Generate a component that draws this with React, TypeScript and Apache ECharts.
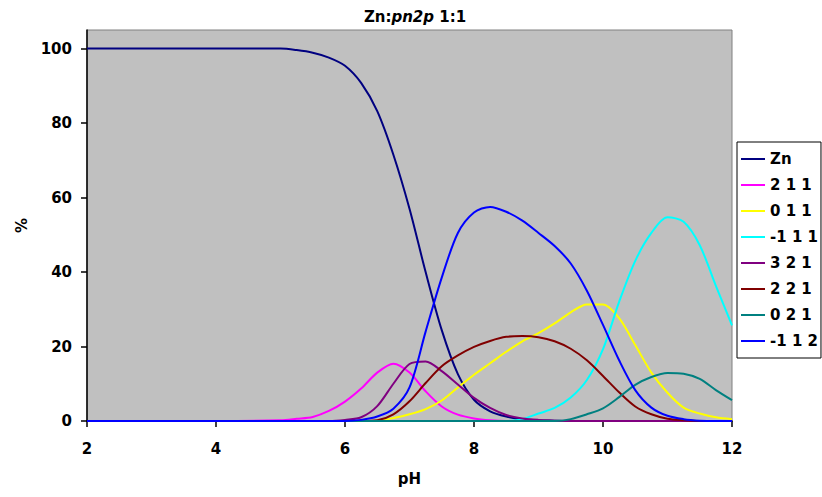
import React, { useEffect, useRef } from "react";
import * as echarts from "echarts";

const pH = [2, 4, 5, 5.25, 5.5, 5.75, 6, 6.25, 6.5, 6.75, 7, 7.25, 7.5, 7.75, 8, 8.25, 8.5, 8.75, 9, 9.25, 9.5, 9.75, 10, 10.25, 10.5, 10.75, 11, 11.25, 11.5, 11.75, 12];

const seriesNames = ["Zn", "2 1 1", "0 1 1", "-1 1 1", "3 2 1", "2 2 1", "0 2 1", "-1 1 2"];
const seriesColors = ["#000080", "#FF00FF", "#FFFF00", "#00FFFF", "#800080", "#800000", "#008080", "#0000FF"];

const zn = [100, 100, 100, 99.6, 98.9, 97.6, 95.4, 90.8, 83.2, 71.5, 57, 40, 24.4, 12.6, 5.7, 2.6, 1.2, 0.5, 0.2, 0.1, 0, 0, 0, 0, 0, 0, 0, 0, 0, 0, 0];
const s211 = [0, 0, 0.2, 0.6, 1.1, 2.7, 5.2, 8.7, 13, 15.4, 13, 8, 3.9, 1.7, 0.7, 0.2, 0, 0, 0, 0, 0, 0, 0, 0, 0, 0, 0, 0, 0, 0, 0];
const s011 = [0, 0, 0, 0, 0, 0, 0, 0, 0.1, 0.8, 1.8, 3.2, 5.5, 9, 12.4, 15.5, 18.6, 21.4, 23.6, 26.2, 29.2, 31.3, 31.3, 27.6, 20.4, 13, 7.6, 3.6, 2, 1, 0.5];
const sm111 = [0, 0, 0, 0, 0, 0, 0, 0, 0, 0, 0, 0, 0, 0, 0, 0, 0, 0.5, 2, 3.5, 6.3, 11, 19.3, 32, 43, 50.5, 54.7, 53.5, 47.2, 36.3, 25.7];
const s321 = [0, 0, 0, 0, 0, 0, 0.3, 1, 4, 10, 15.3, 16, 13.4, 9.8, 6.2, 3.5, 1.6, 0.7, 0.3, 0.1, 0, 0, 0, 0, 0, 0, 0, 0, 0, 0, 0];
const s221 = [0, 0, 0, 0, 0, 0, 0, 0, 0.2, 1.8, 5.3, 10.2, 14.7, 17.6, 19.9, 21.5, 22.6, 22.8, 22.5, 21.4, 19.4, 16.3, 12.1, 7.7, 3.9, 1.8, 0.6, 0.2, 0, 0, 0];
const s021 = [0, 0, 0, 0, 0, 0, 0, 0, 0, 0, 0, 0, 0, 0, 0, 0, 0, 0, 0, 0, 0.5, 1.8, 3.4, 6.4, 9.7, 11.8, 12.9, 12.7, 11.3, 8.3, 5.6];
const sm112 = [0, 0, 0, 0, 0, 0, 0, 0.3, 1.2, 3.3, 9, 24, 38.5, 50.5, 56, 57.5, 56.2, 53.8, 50.5, 47, 42.3, 35, 25.8, 16.3, 8.3, 3.6, 1.4, 0.5, 0.1, 0, 0];

const seriesValues = [zn, s211, s011, sm111, s321, s221, s021, sm112];

const xTicks = [2, 4, 6, 8, 10, 12];
const yTicks = [0, 20, 40, 60, 80, 100];

const FONT = "DejaVu Sans";

export default function App() {
  const ref = useRef<HTMLDivElement>(null);
  useEffect(() => {
    if (!ref.current) return;
    const chart = echarts.init(ref.current, undefined, { renderer: "svg" });
    chart.setOption({
      animation: false,
      backgroundColor: "#FFFFFF",
      title: {
        text: "{a|Zn:}{b|pn2p}{a| 1:1}",
        left: 410,
        textAlign: "center",
        top: 4,
        textStyle: {
          rich: {
            a: { fontFamily: FONT, fontWeight: "bold", fontSize: 15, color: "#000" },
            b: { fontFamily: FONT, fontWeight: "bold", fontStyle: "italic", fontSize: 15, color: "#000" },
          },
        },
      },
      legend: {
        orient: "vertical",
        left: 737,
        top: 142,
        padding: [8, 3, 8, 4],
        icon: "rect",
        itemWidth: 24,
        itemHeight: 2,
        itemGap: 8,
        borderColor: "#000",
        borderWidth: 1,
        backgroundColor: "#FFFFFF",
        textStyle: { fontFamily: FONT, fontWeight: "bold", fontSize: 15, color: "#000", lineHeight: 18 },
        data: seriesNames.map((n, i) => ({ name: n, itemStyle: { color: seriesColors[i] } })),
      },
      grid: {
        left: 87,
        right: 90,
        top: 30,
        bottom: 76,
        show: true,
        backgroundColor: "#C0C0C0",
        borderColor: "#808080",
        borderWidth: 1,
      },
      xAxis: {
        type: "value",
        min: xTicks[0],
        max: xTicks[xTicks.length - 1],
        interval: 2,
        name: "pH",
        nameLocation: "middle",
        nameGap: 50,
        nameTextStyle: { fontFamily: FONT, fontWeight: "bold", fontSize: 15, color: "#000" },
        axisLine: { show: true, lineStyle: { color: "#000", width: 1.5 } },
        axisTick: { show: true, length: 6, lineStyle: { color: "#000", width: 1.5 } },
        axisLabel: { margin: 20, fontFamily: FONT, fontWeight: "bold", fontSize: 15, color: "#000" },
        splitLine: { show: false },
      },
      yAxis: {
        type: "value",
        min: yTicks[0],
        max: 105,
        interval: 20,
        name: "%",
        nameLocation: "middle",
        nameGap: 56,
        nameTextStyle: { fontFamily: FONT, fontWeight: "bold", fontSize: 15, color: "#000" },
        axisLine: { show: true, lineStyle: { color: "#000", width: 1.5 } },
        axisTick: { show: true, length: 6, lineStyle: { color: "#000", width: 1.5 } },
        axisLabel: {
          margin: 15,
          fontFamily: FONT,
          fontWeight: "bold",
          fontSize: 15,
          color: "#000",
          showMaxLabel: false,
          formatter: (v: number) => (yTicks.indexOf(v) >= 0 ? String(v) : ""),
        },
        splitLine: { show: false },
      },
      series: seriesNames.map((name, i) => ({
        name,
        type: "line",
        data: pH.map((x, j) => [x, seriesValues[i][j]]),
        symbol: "none",
        smooth: 0.3,
        lineStyle: { color: seriesColors[i], width: 2 },
        itemStyle: { color: seriesColors[i] },
      })),
    });
    return () => chart.dispose();
  }, []);
  return <div ref={ref} style={{ width: 822, height: 497, position: "absolute", left: 0, top: 0 }} />;
}
